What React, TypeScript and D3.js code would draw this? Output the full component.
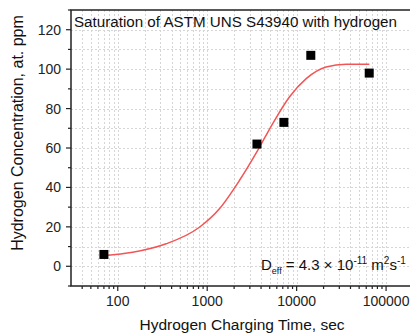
import * as d3 from "d3";
import React, { useEffect, useRef } from "react";

// measured samples (sec, at. ppm)
const chargeTimes = [70, 3600, 7200, 14400, 64800];
const concentrations = [6, 62, 73, 107, 98];

// fitted saturation curve
const fitTimes = [70, 147, 347, 818, 1370, 2290, 3670, 5400, 8300, 12800, 21300, 35700, 65000];
const fitValues = [5.4, 7.1, 11.4, 19.8, 29.2, 43.5, 58.8, 72.4, 85.9, 95.2, 101.1, 102.5, 102.5];

const xMajorTicks = [100, 1000, 10000, 100000];
const yMajorTicks = [0, 20, 40, 60, 80, 100, 120];

const titleText = "Saturation of ASTM UNS S43940 with hydrogen";
const xLabel = "Hydrogen Charging Time, sec";
const yLabel = "Hydrogen Concentration, at. ppm";

const FONT = "'Liberation Sans', Arial, sans-serif";

const App = () => {
  const ref = useRef<SVGSVGElement>(null);

  useEffect(() => {
    const width = 410;
    const height = 334;
    const margin = { top: 10, left: 71, right: 413, bottom: 286 }; // right edge runs off the window

    const svg = d3.select(ref.current);
    svg.selectAll("*").remove();
    svg.attr("width", width).attr("height", height);

    const x = d3.scaleLog().domain([30, 200000]).range([margin.left, margin.right]);
    const y = d3.scaleLinear().domain([-10, 130]).range([margin.bottom, margin.top]);

    // minor positions
    const xMinor: number[] = [];
    for (let p = 1; p <= 5; p++) {
      for (let k = 2; k <= 9; k++) {
        const v = k * Math.pow(10, p);
        if (v > 30 && v < 200000) xMinor.push(v);
      }
    }
    const yMinor = d3.range(-10, 131, 10).filter((v) => v % 20 !== 0);

    const grid = svg.append("g").attr("stroke", "#d6d6d6").attr("stroke-width", 1).attr("stroke-dasharray", "2,2");
    grid
      .selectAll(".gx")
      .data([...xMinor, ...xMajorTicks])
      .enter()
      .append("line")
      .attr("x1", (d) => Math.round(x(d)) + 0.5)
      .attr("x2", (d) => Math.round(x(d)) + 0.5)
      .attr("y1", margin.top)
      .attr("y2", margin.bottom);
    grid
      .selectAll(".gy")
      .data(d3.range(0, 130, 10))
      .enter()
      .append("line")
      .attr("x1", margin.left)
      .attr("x2", margin.right)
      .attr("y1", (d) => Math.round(y(d)) + 0.5)
      .attr("y2", (d) => Math.round(y(d)) + 0.5);

    // frame
    svg
      .append("rect")
      .attr("x", margin.left)
      .attr("y", margin.top)
      .attr("width", margin.right - margin.left)
      .attr("height", margin.bottom - margin.top)
      .attr("fill", "none")
      .attr("stroke", "#222")
      .attr("stroke-width", 1.5);

    // ticks
    const ticks = svg.append("g").attr("stroke", "#222").attr("stroke-width", 1.2);
    ticks
      .selectAll(".tx")
      .data(xMajorTicks)
      .enter()
      .append("line")
      .attr("x1", (d) => x(d))
      .attr("x2", (d) => x(d))
      .attr("y1", margin.bottom)
      .attr("y2", margin.bottom + 5);
    ticks
      .selectAll(".txm")
      .data(xMinor)
      .enter()
      .append("line")
      .attr("x1", (d) => x(d))
      .attr("x2", (d) => x(d))
      .attr("y1", margin.bottom)
      .attr("y2", margin.bottom + 3);
    ticks
      .selectAll(".ty")
      .data(yMajorTicks)
      .enter()
      .append("line")
      .attr("x1", margin.left - 5)
      .attr("x2", margin.left)
      .attr("y1", (d) => y(d))
      .attr("y2", (d) => y(d));
    ticks
      .selectAll(".tym")
      .data(yMinor)
      .enter()
      .append("line")
      .attr("x1", margin.left - 3)
      .attr("x2", margin.left)
      .attr("y1", (d) => y(d))
      .attr("y2", (d) => y(d));

    svg
      .selectAll(".xl")
      .data(xMajorTicks)
      .enter()
      .append("text")
      .attr("x", (d) => x(d))
      .attr("y", 306)
      .attr("text-anchor", "middle")
      .style("font-family", FONT)
      .style("font-size", "14px")
      .attr("fill", "#222")
      .text((d) => String(d));

    svg
      .selectAll(".yl")
      .data(yMajorTicks)
      .enter()
      .append("text")
      .attr("x", 61)
      .attr("y", (d) => y(d) + 5)
      .attr("text-anchor", "end")
      .style("font-family", FONT)
      .style("font-size", "14px")
      .attr("fill", "#222")
      .text((d) => String(d));

    // fit curve
    const line = d3
      .line<number>()
      .x((d) => x(d))
      .y((_, i) => y(fitValues[i]))
      .curve(d3.curveMonotoneX);
    svg
      .append("path")
      .attr("d", line(fitTimes))
      .attr("fill", "none")
      .attr("stroke", "#f25555")
      .attr("stroke-width", 1.5);

    // points
    svg
      .selectAll(".pt")
      .data(chargeTimes)
      .enter()
      .append("rect")
      .attr("x", (d) => x(d) - 4.5)
      .attr("y", (_, i) => y(concentrations[i]) - 4.5)
      .attr("width", 9)
      .attr("height", 9)
      .attr("fill", "#000");

    // title, pinned to the width it has in the original
    svg
      .append("text")
      .attr("x", 74)
      .attr("y", 27)
      .attr("textLength", 323)
      .attr("lengthAdjust", "spacingAndGlyphs")
      .style("font-family", FONT)
      .style("font-size", "15.5px")
      .attr("fill", "#111")
      .text(titleText);

    svg
      .append("text")
      .attr("x", 242)
      .attr("y", 330)
      .attr("text-anchor", "middle")
      .style("font-family", FONT)
      .style("font-size", "15.5px")
      .attr("fill", "#111")
      .text(xLabel);

    svg
      .append("text")
      .attr("transform", "translate(23,133) rotate(-90)")
      .attr("text-anchor", "middle")
      .style("font-family", FONT)
      .style("font-size", "16px")
      .attr("fill", "#111")
      .text(yLabel);

    // D_eff annotation
    const ann = svg
      .append("text")
      .attr("x", 261)
      .attr("y", 270)
      .style("font-family", FONT)
      .style("font-size", "15px")
      .attr("fill", "#111");
    ann.append("tspan").text("D");
    ann.append("tspan").attr("dy", 4).style("font-size", "9px").text("eff");
    ann.append("tspan").attr("dy", -4).text(" = 4.3 \u00d7 10");
    ann.append("tspan").attr("dy", -6).style("font-size", "10px").text("-11");
    ann.append("tspan").attr("dy", 6).text("  m");
    ann.append("tspan").attr("dy", -6).style("font-size", "10px").text("2");
    ann.append("tspan").attr("dy", 6).text("s");
    ann.append("tspan").attr("dy", -6).style("font-size", "10px").text("-1");
  }, []);

  return <svg ref={ref} style={{ position: "absolute", left: 0, top: 0 }}></svg>;
};

export default App;
